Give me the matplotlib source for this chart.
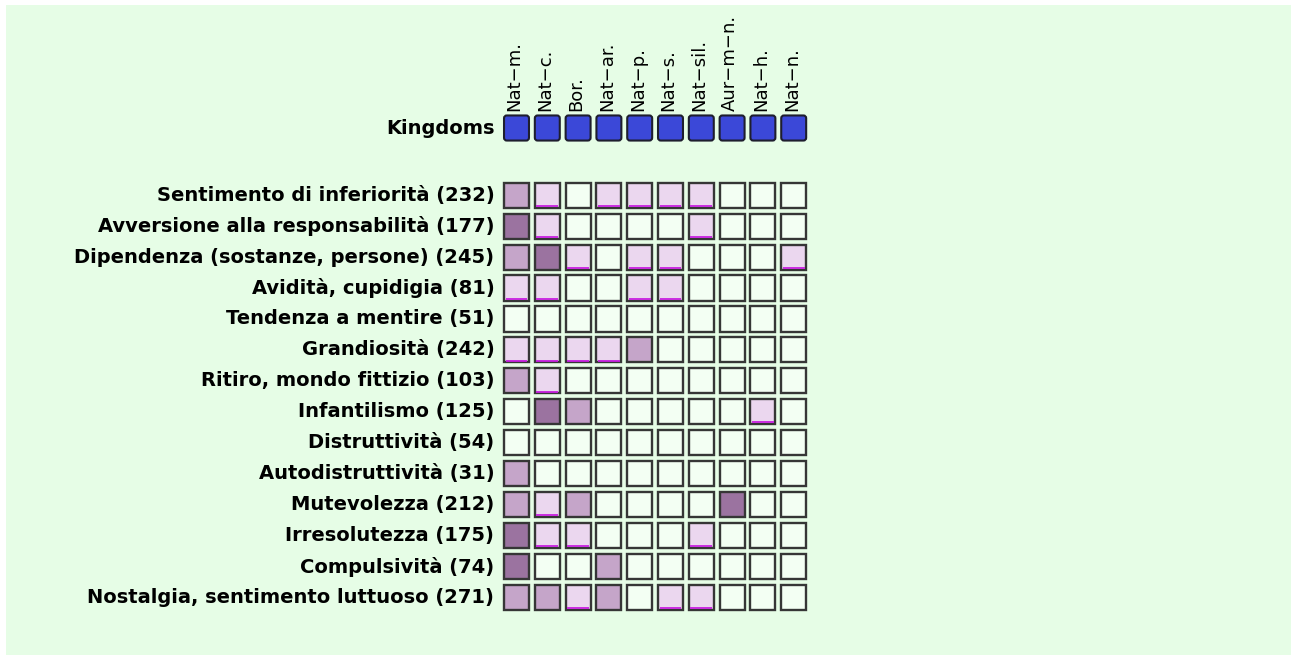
import matplotlib

matplotlib.use("Agg")
import matplotlib.pyplot as plt
from matplotlib.patches import Rectangle, FancyBboxPatch

# data ---------------------------------------------------------------------
kingdoms = ["Nat−m.", "Nat−c.", "Bor.", "Nat−ar.", "Nat−p.", "Nat−s.",
            "Nat−sil.", "Aur−m−n.", "Nat−h.", "Nat−n."]
traits = ["Sentimento di inferiorità", "Avversione alla responsabilità",
          "Dipendenza (sostanze, persone)", "Avidità, cupidigia",
          "Tendenza a mentire", "Grandiosità", "Ritiro, mondo fittizio",
          "Infantilismo", "Distruttività", "Autodistruttività", "Mutevolezza",
          "Irresolutezza", "Compulsività", "Nostalgia, sentimento luttuoso"]
counts = [232, 177, 245, 81, 51, 242, 103, 125, 54, 31, 212, 175, 74, 271]
# 0 = none, 1 = low, 2 = medium, 3 = high
levels = [
    [2, 1, 0, 1, 1, 1, 1, 0, 0, 0],
    [3, 1, 0, 0, 0, 0, 1, 0, 0, 0],
    [2, 3, 1, 0, 1, 1, 0, 0, 0, 1],
    [1, 1, 0, 0, 1, 1, 0, 0, 0, 0],
    [0, 0, 0, 0, 0, 0, 0, 0, 0, 0],
    [1, 1, 1, 1, 2, 0, 0, 0, 0, 0],
    [2, 1, 0, 0, 0, 0, 0, 0, 0, 0],
    [0, 3, 2, 0, 0, 0, 0, 0, 1, 0],
    [0, 0, 0, 0, 0, 0, 0, 0, 0, 0],
    [2, 0, 0, 0, 0, 0, 0, 0, 0, 0],
    [2, 1, 2, 0, 0, 0, 0, 3, 0, 0],
    [3, 1, 1, 0, 0, 0, 1, 0, 0, 0],
    [3, 0, 0, 2, 0, 0, 0, 0, 0, 0],
    [2, 2, 1, 2, 0, 1, 1, 0, 0, 0],
]

BG = "#e6fde6"
FILL = {0: "#f3fff3", 1: "#ebd7ef", 2: "#c5a5c9", 3: "#9b73a0"}
BLUE = "#3b48d8"
EDGE = "#363636"
KROW = -2.17   # kingdoms row sits above the trait rows
CELL = 0.81

W, H = 1291, 655
fig = plt.figure(figsize=(W / 100, H / 100), dpi=100)
fig.patch.set_facecolor("white")
fig.add_artist(Rectangle((6 / W, 0), 1, 1 - 5 / H, transform=fig.transFigure,
                         facecolor=BG, edgecolor="none", zorder=0))

# axes mapped so one column/row step ~ 31 px
ax = fig.add_axes([501.1 / W, 1 - 613.0 / H, 308.0 / W, 501.4 / H])
ax.set_xlim(-0.5, 9.5)
ax.set_ylim(13.5, -2.7)
ax.axis("off")
ax.patch.set_alpha(0)

half = CELL / 2
for j, name in enumerate(kingdoms):
    ax.add_patch(FancyBboxPatch((j - half + 0.05, KROW - half + 0.05),
                                CELL - 0.1, CELL - 0.1,
                                boxstyle="round,pad=0.05,rounding_size=0.09",
                                facecolor=BLUE, edgecolor="#1e1e2e", lw=1.5))
    ax.text(j - 0.06, -2.72, name, rotation=90, ha="center", va="bottom",
            fontsize=13, color="black")
ax.text(-0.72, KROW, "Kingdoms", ha="right", va="center", fontsize=14,
        fontweight="bold")

for i, (trait, n) in enumerate(zip(traits, counts)):
    ax.text(-0.72, i, f"{trait} ({n})", ha="right", va="center",
            fontsize=14, fontweight="bold")
    for j, lv in enumerate(levels[i]):
        ax.add_patch(Rectangle((j - half, i - half), CELL, CELL,
                               facecolor=FILL[lv], edgecolor=EDGE, lw=1.7))
        if lv == 1:
            ax.plot([j - half + 0.05, j + half - 0.05],
                    [i + half - 0.06, i + half - 0.06],
                    color="#c81ee0", lw=1.3, solid_capstyle="butt")

fig.savefig("out.png", dpi=100, facecolor=fig.get_facecolor())
